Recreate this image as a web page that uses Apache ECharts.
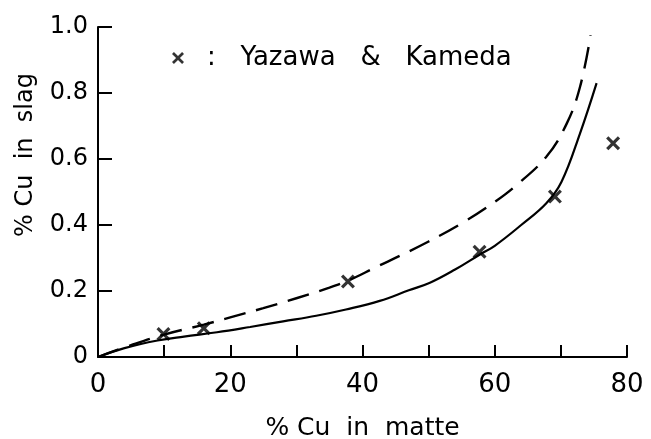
<!DOCTYPE html>
<html>
<head>
<meta charset="utf-8">
<script src="https://cdn.jsdelivr.net/npm/echarts@6/dist/echarts.min.js"></script>
<style>
  html, body { margin: 0; padding: 0; background: #fff; }
  #chart { width: 651px; height: 439px; }
</style>
</head>
<body>
<div id="chart"></div>
<script>
// ---- Data ----
// Solid curve (% Cu in matte, % Cu in slag)
const solidCurve = [
  [0, 0], [4, 0.027], [9, 0.05], [13, 0.062], [18, 0.075], [23, 0.091],
  [28, 0.108], [33, 0.125], [37.5, 0.144], [42.6, 0.17], [47, 0.202],
  [50.2, 0.225], [54, 0.265], [57.7, 0.31], [60, 0.337], [64, 0.4],
  [67.8, 0.466], [70.1, 0.531], [72.9, 0.678], [75.4, 0.83]
];
// Dashed curve
const dashedCurve = [
  [0, 0], [5, 0.036], [10, 0.068], [16, 0.098], [20, 0.12], [25, 0.148],
  [30, 0.178], [35, 0.21], [38, 0.233], [42, 0.272], [46, 0.31],
  [50, 0.35], [55, 0.405], [60, 0.47], [63, 0.516], [67.8, 0.607],
  [70.9, 0.708], [72.9, 0.819], [74.5, 0.975]
];
// Yazawa & Kameda measured points
const yazawaKameda = [
  [9.9, 0.07], [16.0, 0.087], [37.8, 0.229], [57.7, 0.319], [69.1, 0.486], [77.9, 0.648]
];
const xTickLabels = ['0', '20', '40', '60', '80'];
const yTickLabels = ['0', '0.2', '0.4', '0.6', '0.8', '1.0'];

const crossPath = 'path://M0,1.6L1.6,0L5,3.4L8.4,0L10,1.6L6.6,5L10,8.4L8.4,10L5,6.6L1.6,10L0,8.4L3.4,5Z';
const fontFamily = 'DejaVu Sans';

const chart = echarts.init(document.getElementById('chart'));
chart.setOption({
  animation: false,
  backgroundColor: '#ffffff',
  textStyle: { fontFamily: fontFamily, color: '#000' },
  grid: { left: 98, right: 24, top: 27, bottom: 82, containLabel: false, outerBoundsMode: 'none' },
  legend: {
    left: 167, top: 40,
    icon: crossPath,
    itemWidth: 15, itemHeight: 12,
    data: ['Yazawa & Kameda'],
    formatter: () => '  :   Yazawa   &   Kameda',
    textStyle: { fontSize: 26, color: '#000', fontFamily: fontFamily }
  },
  xAxis: {
    type: 'value', min: 0, max: 80, interval: 10,
    name: '% Cu  in  matte', nameLocation: 'middle', nameGap: 59,
    nameTextStyle: { fontSize: 25, color: '#000' },
    axisLine: { show: true, onZero: false, lineStyle: { color: '#000', width: 2 } },
    axisTick: { show: true, inside: true, length: 12, lineStyle: { color: '#000', width: 2 } },
    splitLine: { show: false },
    axisLabel: {
      margin: 15, fontSize: 26, color: '#000',
      formatter: v => (v % 20 === 0 ? xTickLabels[v / 20] : '')
    }
  },
  yAxis: {
    type: 'value', min: 0, max: 1.0, interval: 0.2,
    name: '% Cu  in  slag', nameLocation: 'middle', nameRotate: 90, nameGap: 60,
    nameTextStyle: { fontSize: 24, color: '#000', padding: [0, 0, 0, 74] },
    axisLine: { show: true, onZero: false, lineStyle: { color: '#000', width: 2 } },
    axisTick: { show: true, inside: true, length: 14, lineStyle: { color: '#000', width: 2 } },
    splitLine: { show: false },
    axisLabel: {
      margin: 10, fontSize: 24, color: '#000',
      formatter: v => yTickLabels[Math.round(v / 0.2)]
    }
  },
  series: [
    {
      name: 'solid', type: 'line', data: solidCurve, smooth: 0.4,
      showSymbol: false, symbol: 'none', silent: true,
      lineStyle: { color: '#000', width: 2.2 }
    },
    {
      name: 'dashed', type: 'line', data: dashedCurve, smooth: 0.4,
      showSymbol: false, symbol: 'none', silent: true,
      lineStyle: { color: '#000', width: 2.4, type: [22, 11] }
    },
    {
      name: 'Yazawa & Kameda', type: 'scatter', data: yazawaKameda,
      symbol: crossPath, symbolSize: 14,
      itemStyle: { color: '#000' }
    }
  ]
});
</script>
</body>
</html>
